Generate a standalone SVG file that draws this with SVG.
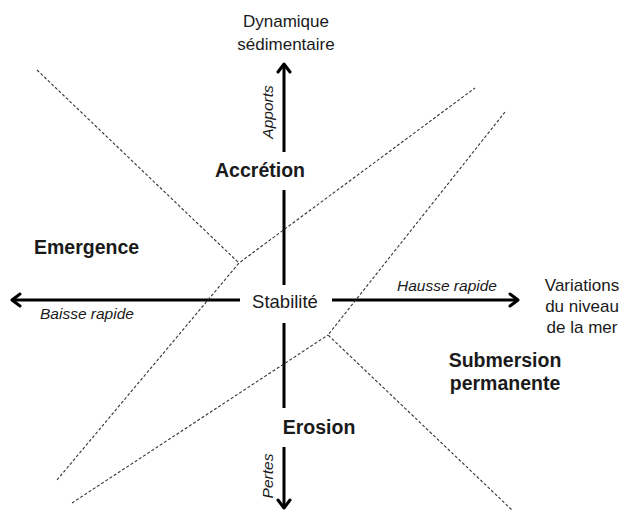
<svg xmlns="http://www.w3.org/2000/svg" width="622" height="513" viewBox="0 0 622 513">
<style>
text{font-family:"Liberation Sans",Arial,sans-serif;fill:#1a1a1a}
.lab{font-size:17px}
.b{font-size:19.5px;font-weight:bold}
.i{font-size:15.5px;font-style:italic}
.axis{stroke:#000;stroke-width:3;fill:none}
.dash{stroke:#333;stroke-width:1.1;stroke-dasharray:3 2;fill:none}
.head{stroke:#000;stroke-width:3;fill:none;stroke-linecap:round;stroke-linejoin:round}
</style>
<rect width="622" height="513" fill="#fff"/>
<g id="connectors">
<path class="axis" d="M284 152V64M284 190V285M284 323V408M284 447V508"/>
<path class="head" d="M278 72L284 64L290 72M278 500L284 508L290 500"/>
<path class="axis" d="M240 300H12M332 300H518"/>
<path class="head" d="M20 294L12 300L20 306M510 294L518 300L510 306"/>
<path class="dash" d="M37 70L239 263"/>
<path class="dash" d="M57 480L239 263L475 88"/>
<path class="dash" d="M505 112L328 335L512 510"/>
<path class="dash" d="M72 503L328 335"/>
</g>
<g id="n-dynamique"><text class="lab" x="286" y="27" text-anchor="middle">Dynamique</text><text class="lab" x="286" y="50" text-anchor="middle">sédimentaire</text></g>
<g id="n-apports"><text class="i" transform="translate(273,112) rotate(-90)" text-anchor="middle">Apports</text></g>
<g id="n-accretion"><text class="b" x="260" y="177" text-anchor="middle">Accrétion</text></g>
<g id="n-emergence"><text class="b" x="34" y="254">Emergence</text></g>
<g id="n-stabilite"><text class="lab" x="285" y="308" text-anchor="middle" style="font-size:18.5px">Stabilité</text></g>
<g id="n-baisse"><text class="i" x="40" y="319">Baisse rapide</text></g>
<g id="n-hausse"><text class="i" x="397" y="291">Hausse rapide</text></g>
<g id="n-variations"><text class="lab" x="582" y="291" text-anchor="middle">Variations</text><text class="lab" x="582" y="312" text-anchor="middle">du niveau</text><text class="lab" x="582" y="333" text-anchor="middle">de la mer</text></g>
<g id="n-submersion"><text class="b" x="505" y="367" text-anchor="middle">Submersion</text><text class="b" x="505" y="390" text-anchor="middle">permanente</text></g>
<g id="n-erosion"><text class="b" x="319" y="434" text-anchor="middle">Erosion</text></g>
<g id="n-pertes"><text class="i" transform="translate(273,476) rotate(-90)" text-anchor="middle">Pertes</text></g>
</svg>
